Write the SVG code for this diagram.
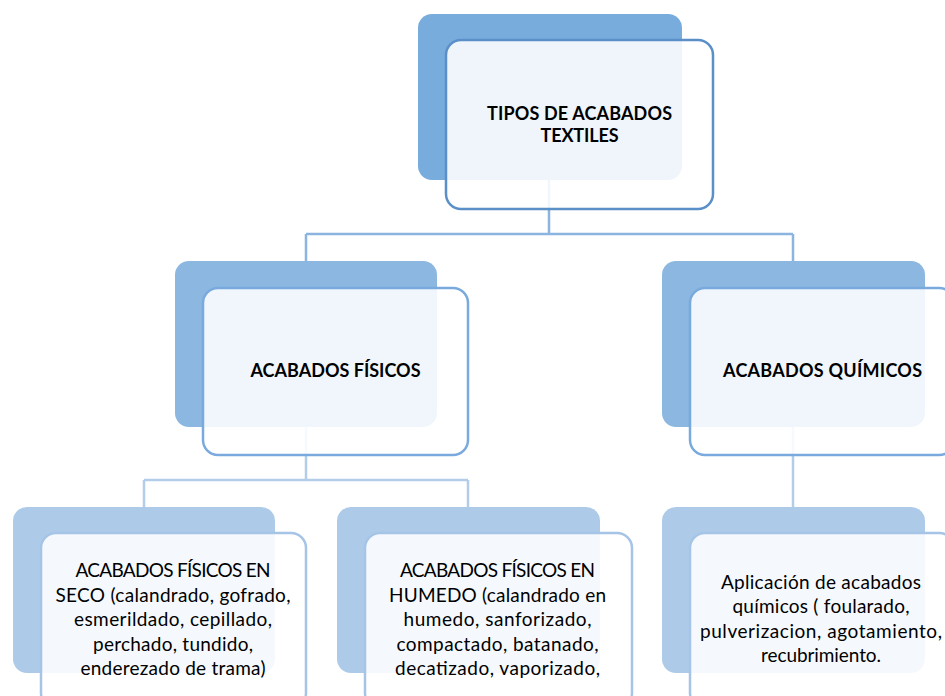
<svg xmlns="http://www.w3.org/2000/svg" width="945" height="696" viewBox="0 0 945 696">
<style>
.b1{fill:#78acdc}
.b2{fill:#8bb7e1}
.b3{fill:#adcbe9}
.f{fill:#ffffff;fill-opacity:0.88;stroke-width:2.5}
.f1{stroke:#5a8fc8}
.f2{stroke:#7aaadd}
.f3{stroke:#a6c4e6}
.t{font-family:Lato,"Liberation Sans",sans-serif;fill:#000;text-anchor:middle}
.tb{font-weight:bold;font-size:18px}
.tr{font-size:19px}
.c1{stroke:#8cb4e0;stroke-width:2.5;fill:none}
.c2{stroke:#b3cde9;stroke-width:2.5;fill:none}
</style>
<rect width="945" height="696" fill="#ffffff"/>
<g id="connectors">
<path class="c1" d="M549 180V234M306 234H793M306 234V261M793 234V261"/>
<path class="c2" d="M306 427V480M144 480H468M144 480V507M468 480V507M793 427V507"/>
</g>
<g id="n-tipos">
<rect class="b1" x="418" y="14" width="264" height="166" rx="14"/>
<rect class="f f1" x="446" y="40" width="267" height="169" rx="15"/>
<text class="t tb" x="579.5" y="120" textLength="185">TIPOS DE ACABADOS</text>
<text class="t tb" x="579.5" y="142" textLength="78">TEXTILES</text>
</g>
<g id="n-fisicos">
<rect class="b2" x="175" y="261" width="262" height="166" rx="14"/>
<rect class="f f2" x="203" y="288" width="265" height="167" rx="15"/>
<text class="t tb" x="335.5" y="377" textLength="170">ACABADOS FÍSICOS</text>
</g>
<g id="n-quimicos">
<rect class="b2" x="662" y="261" width="263" height="166" rx="14"/>
<rect class="f f2" x="690" y="288" width="264" height="167" rx="15"/>
<text class="t tb" x="822.5" y="377" textLength="199">ACABADOS QUÍMICOS</text>
</g>
<g id="n-seco">
<rect class="b3" x="13" y="507" width="262" height="166" rx="14"/>
<rect class="f f3" x="41" y="533" width="265" height="175" rx="15"/>
<text class="t tr" x="173" y="577" textLength="195">ACABADOS FÍSICOS EN</text>
<text class="t tr" x="173" y="602" textLength="235">SECO (calandrado, gofrado,</text>
<text class="t tr" x="173" y="626" textLength="198">esmerildado, cepillado,</text>
<text class="t tr" x="173" y="651" textLength="160">perchado, tundido,</text>
<text class="t tr" x="173" y="675" textLength="185">enderezado de trama)</text>
</g>
<g id="n-humedo">
<rect class="b3" x="337" y="507" width="263" height="166" rx="14"/>
<rect class="f f3" x="365" y="533" width="267" height="175" rx="15"/>
<text class="t tr" x="497.5" y="577" textLength="195">ACABADOS FÍSICOS EN</text>
<text class="t tr" x="497.5" y="602" textLength="217">HUMEDO (calandrado en</text>
<text class="t tr" x="497.5" y="626" textLength="188">humedo, sanforizado,</text>
<text class="t tr" x="497.5" y="651" textLength="202">compactado, batanado,</text>
<text class="t tr" x="497.5" y="675" textLength="205">decatizado, vaporizado,</text>
</g>
<g id="n-aplicacion">
<rect class="b3" x="662" y="507" width="263" height="166" rx="14"/>
<rect class="f f3" x="690" y="533" width="264" height="175" rx="15"/>
<text class="t tr" x="821" y="589" textLength="200">Aplicación de acabados</text>
<text class="t tr" x="821" y="613" textLength="177">químicos ( foularado,</text>
<text class="t tr" x="821" y="638" textLength="242">pulverizacion, agotamiento,</text>
<text class="t tr" x="821" y="662" textLength="120">recubrimiento.</text>
</g>
</svg>
